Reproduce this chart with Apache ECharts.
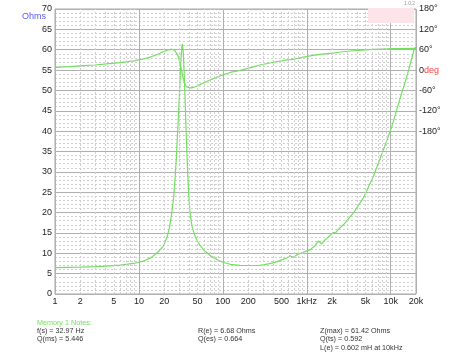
<!DOCTYPE html>
<html>
<head>
<meta charset="utf-8">
<script src="https://cdn.jsdelivr.net/npm/echarts@6/dist/echarts.min.js"></script>
<style>
html, body { margin: 0; padding: 0; background: #fff; }
#main { width: 451px; height: 354px; }
</style>
</head>
<body>
<div id="main"></div>
<script>
// impedance curve (Hz / Ohms)
var freqZ = [1, 2, 3, 4.1, 6, 8.6, 11, 13.6, 16.3, 19.5, 21.8, 23.2, 24.6, 26, 26.9, 28, 29, 30.2, 31.5, 32.4, 32.97,
	33.7, 34.5, 35.4, 36.5, 37.7, 39, 40.6, 43, 46.6, 52, 58.6, 70, 84.6, 100, 122, 160, 220, 277, 350, 438, 520, 577,
	632, 693, 760, 832, 950, 1094, 1250, 1374, 1507, 1652, 1850, 2075, 2200, 2400, 2730, 3590, 4720, 6220, 8180,
	10300, 12950, 15560, 19150, 20000];
var ohms = [6.5, 6.6, 6.7, 6.85, 7.1, 7.5, 8.0, 8.8, 10.0, 11.7, 14.2, 16.5, 19.9, 24, 28.1, 34, 40.3, 48, 56.5, 60.5, 61.42,
	59.5, 55, 48.5, 40, 32.2, 25, 19.9, 16.5, 14.2, 12.3, 10.9, 9.5, 8.45, 7.8, 7.3, 7.05, 7.0, 7.05, 7.4, 7.9, 8.5, 8.85,
	9.4, 9.0, 9.6, 9.95, 10.4, 10.9, 11.8, 13.0, 12.3, 13.3, 14.2, 15.1, 15.0, 16.0, 17.0, 19.9, 23.6, 28.9, 35.4,
	41.1, 48.1, 53.4, 60.3, 60.6];

// phase curve (Hz / degrees)
var freqP = [1, 1.5, 2.2, 3, 4.1, 6, 8.6, 11, 13.6, 16.5, 19.5, 22, 24.6, 26.5, 27.7, 29, 30.3, 31.5, 32.5, 33.5, 34.5,
	35.8, 37.1, 40, 42.6, 47, 53.5, 65, 84.6, 100, 122, 160, 220, 277, 400, 577, 640, 700, 800, 1094, 1500, 2075, 2200,
	2700, 3590, 6220, 10800, 20000];
var phaseDeg = [8, 10, 13, 15, 18, 22, 27, 32, 38, 46, 54, 59, 61.5, 59, 55, 44, 28, 10, -7, -22, -34,
	-44, -50, -52.5, -52.5, -49, -43, -33, -21, -14, -7, -1, 8, 15, 23, 30, 31, 32, 35, 42, 47, 50, 51,
	54, 57, 61, 63, 64];

var xTickFreqs = [1, 2, 5, 10, 20, 50, 100, 200, 500, 1000, 2000, 5000, 10000, 20000];
var xTickLabels = ['1', '2', '5', '10', '20', '50', '100', '200', '500', '1kHz', '2k', '5k', '10k', '20k'];

var green = '#72e05f';
var lg = function (f) { return Math.log(f) / Math.LN10; };

// dotted minor frequency lines 2..9 in each decade
var minorLines = [];
[1, 10, 100, 1000, 10000].forEach(function (d) {
	for (var m = 2; m <= 9; m++) {
		if (m * d < 20000) minorLines.push({ xAxis: lg(m * d) });
	}
});

var noteFont = '7.2px Liberation Sans';
function note(x, y, txt, col) {
	return { type: 'text', x: x, y: y, style: { text: txt, fill: col || '#333', font: noteFont, verticalAlign: 'middle' } };
}

var myChart = echarts.init(document.getElementById('main'));

var option = {
	animation: false,
	backgroundColor: '#fff',
	textStyle: { fontFamily: 'Liberation Sans' },
	grid: {
		left: 55, right: 35, top: 9, bottom: 60,
		show: true, borderColor: '#a8a8a8', borderWidth: 1
	},
	title: {
		text: 'Ohms', left: 17, top: 7,
		textStyle: { color: '#5b5bef', fontSize: 9, fontWeight: 'normal', fontFamily: 'Liberation Sans' }
	},
	xAxis: {
		type: 'value',
		min: 0, max: lg(20000), interval: 1,
		axisLine: { show: false },
		axisTick: { show: false },
		splitLine: { show: true, lineStyle: { color: '#b0b0b0', width: 1 } },
		axisLabel: {
			customValues: xTickFreqs.map(lg),
			color: '#222', fontSize: 9, margin: 3,
			formatter: function (v) {
				for (var i = 0; i < xTickFreqs.length; i++) {
					if (Math.abs(lg(xTickFreqs[i]) - v) < 1e-6) return xTickLabels[i];
				}
				return '';
			}
		}
	},
	yAxis: [{
		type: 'value', min: 0, max: 70, interval: 5,
		axisLine: { show: false },
		axisTick: { show: false },
		axisLabel: { color: '#222', fontSize: 9, margin: 3 },
		splitLine: { show: true, lineStyle: { color: '#b0b0b0', width: 1 } },
		minorTick: { show: false, splitNumber: 5 },
		minorSplitLine: { show: true, lineStyle: { color: '#cfcfcf', type: [2, 2], width: 1 } }
	}, {
		type: 'value', min: -660, max: 180, interval: 60, position: 'right',
		axisLine: { show: false },
		axisTick: { show: false },
		splitLine: { show: false },
		axisLabel: {
			color: '#222', fontSize: 9, margin: 3,
			formatter: function (v) {
				if (v < -180) return '';
				if (v === 0) return '0{r|deg}';
				return v + '°';
			},
			rich: { r: { color: '#f04848', fontSize: 9, fontFamily: 'Liberation Sans' } }
		}
	}],
	series: [{
		name: 'Phase',
		type: 'line',
		yAxisIndex: 1,
		showSymbol: false,
		silent: true,
		lineStyle: { color: green, width: 1.2 },
		data: freqP.map(function (f, i) { return [lg(f), phaseDeg[i]]; }),
		markLine: {
			silent: true,
			symbol: ['none', 'none'],
			label: { show: false },
			lineStyle: { color: '#cfcfcf', type: [2, 2], width: 1 },
			data: minorLines
		}
	}, {
		name: 'Impedance',
		type: 'line',
		showSymbol: false,
		silent: true,
		lineStyle: { color: green, width: 1.2 },
		data: freqZ.map(function (f, i) { return [lg(f), ohms[i]]; })
	}],
	graphic: [
		{ type: 'rect', shape: { x: 368, y: 8, width: 46, height: 15 }, style: { fill: '#fde4e8' }, z: 10 },
		{ type: 'text', x: 404, y: 1, style: { text: '1.0.2', fill: '#999', font: '5px Liberation Sans' }, z: 10 },
		note(37, 323, 'Memory 1 Notes:', green),
		note(37, 331, 'f(s) = 32.97 Hz'),
		note(37, 339.5, 'Q(ms) = 5.446'),
		note(198, 331, 'R(e) = 6.68 Ohms'),
		note(198, 339.5, 'Q(es) = 0.664'),
		note(320, 331, 'Z(max) = 61.42 Ohms'),
		note(320, 339.5, 'Q(ts) = 0.592'),
		note(320, 348, 'L(e) = 0.602 mH at 10kHz')
	]
};

myChart.setOption(option);
</script>
</body>
</html>
